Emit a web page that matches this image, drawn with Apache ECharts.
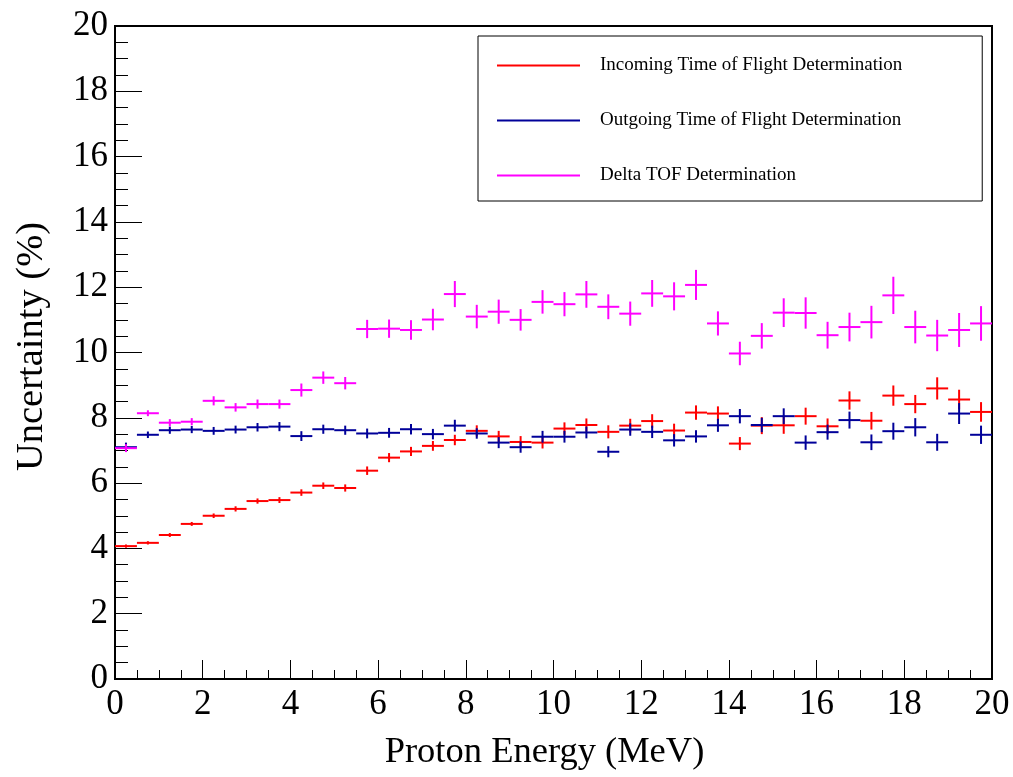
<!DOCTYPE html>
<html>
<head>
<meta charset="utf-8">
<title>Uncertainty vs Proton Energy</title>
<script src="https://cdn.jsdelivr.net/npm/echarts@6/dist/echarts.min.js"></script>
<style>
  html, body { margin: 0; padding: 0; background: #fff; }
  #chart { width: 1013px; height: 777px; }
</style>
</head>
<body>
<div id="chart"></div>
<script>
// Histogram binning: 40 bins of 0.5 MeV between 0 and 20 MeV
const binLow = 0;
const binWidth = 0.5;
const nBins = 40;

// Axis ticks
const xTicks = [0, 2, 4, 6, 8, 10, 12, 14, 16, 18, 20];
const yTicks = [0, 2, 4, 6, 8, 10, 12, 14, 16, 18, 20];

// Series names
const seriesNames = [
  'Incoming Time of Flight Determination',
  'Outgoing Time of Flight Determination',
  'Delta TOF Determination'
];

// Incoming TOF uncertainty (%) per bin and its error
const incoming = [4.07, 4.17, 4.41, 4.75, 5.00, 5.21, 5.45, 5.48, 5.71, 5.92,
                  5.85, 6.38, 6.78, 6.97, 7.14, 7.32, 7.60, 7.43, 7.26, 7.24,
                  7.67, 7.78, 7.57, 7.76, 7.90, 7.61, 8.16, 8.13, 7.21, 7.76,
                  7.77, 8.05, 7.74, 8.53, 7.91, 8.68, 8.42, 8.90, 8.56, 8.18];
const incomingErr = [0.05, 0.05, 0.06, 0.06, 0.07, 0.08, 0.08, 0.09, 0.10, 0.10,
                     0.11, 0.13, 0.14, 0.14, 0.15, 0.16, 0.17, 0.17, 0.18, 0.18,
                     0.19, 0.20, 0.20, 0.21, 0.21, 0.21, 0.22, 0.22, 0.20, 0.26,
                     0.26, 0.26, 0.24, 0.28, 0.27, 0.31, 0.28, 0.34, 0.30, 0.30];

// Outgoing TOF uncertainty (%) per bin and its error
const outgoing = [7.10, 7.48, 7.62, 7.64, 7.60, 7.64, 7.71, 7.73, 7.44, 7.65,
                  7.62, 7.52, 7.54, 7.65, 7.50, 7.76, 7.52, 7.24, 7.10, 7.42,
                  7.42, 7.55, 6.96, 7.64, 7.57, 7.31, 7.43, 7.77, 8.05, 7.78,
                  8.05, 7.24, 7.56, 7.93, 7.25, 7.59, 7.71, 7.25, 8.13, 7.48];
const outgoingErr = [0.14, 0.10, 0.11, 0.11, 0.12, 0.12, 0.13, 0.14, 0.15, 0.14,
                     0.14, 0.15, 0.15, 0.16, 0.16, 0.18, 0.16, 0.17, 0.17, 0.18,
                     0.18, 0.18, 0.17, 0.19, 0.19, 0.19, 0.19, 0.20, 0.22, 0.22,
                     0.24, 0.22, 0.23, 0.26, 0.24, 0.26, 0.28, 0.26, 0.32, 0.28];

// Delta TOF uncertainty (%) per bin and its error
const deltaTof = [7.07, 8.14, 7.85, 7.88, 8.52, 8.32, 8.42, 8.42, 8.85, 9.23,
                  9.06, 10.72, 10.73, 10.69, 11.01, 11.79, 11.10, 11.25, 11.00, 11.55,
                  11.48, 11.78, 11.40, 11.19, 11.81, 11.72, 12.07, 10.89, 9.97, 10.51,
                  11.22, 11.21, 10.53, 10.78, 10.93, 11.75, 10.78, 10.52, 10.69, 10.89];
const deltaTofErr = [0.12, 0.09, 0.11, 0.11, 0.14, 0.13, 0.14, 0.14, 0.20, 0.19,
                     0.19, 0.28, 0.28, 0.30, 0.33, 0.40, 0.36, 0.37, 0.33, 0.36,
                     0.37, 0.41, 0.38, 0.37, 0.41, 0.43, 0.46, 0.37, 0.36, 0.39,
                     0.44, 0.48, 0.41, 0.44, 0.50, 0.57, 0.50, 0.48, 0.52, 0.53];

const colors = ['#ff0000', '#000099', '#ff00ff'];
const font = 'Liberation Serif, Times New Roman, serif';

// Bin centres
const centers = [];
for (let i = 0; i < nBins; i++) centers.push(binLow + (i + 0.5) * binWidth);

function rows(values, errors) {
  return values.map((v, i) => [centers[i], v, errors[i]]);
}

// Each bin is drawn as a cross: horizontal bar over the bin width,
// vertical bar spanning +/- the error
function crossItem(params, api) {
  const x = api.value(0), y = api.value(1), e = api.value(2);
  const l = api.coord([x - binWidth / 2, y]);
  const r = api.coord([x + binWidth / 2, y]);
  const t = api.coord([x, y + e]);
  const b = api.coord([x, y - e]);
  const style = { stroke: api.visual('color'), lineWidth: 2 };
  return {
    type: 'group',
    children: [
      { type: 'line', shape: { x1: l[0], y1: l[1], x2: r[0], y2: r[1] }, style },
      { type: 'line', shape: { x1: t[0], y1: t[1], x2: b[0], y2: b[1] }, style }
    ]
  };
}

function makeSeries(name, values, errors, color) {
  return {
    name,
    type: 'custom',
    renderItem: crossItem,
    itemStyle: { color },
    encode: { x: 0, y: 1 },
    data: rows(values, errors),
    z: 3
  };
}

const chart = echarts.init(document.getElementById('chart'), null, { renderer: 'canvas' });

const axisCommon = {
  type: 'value',
  min: xTicks[0],
  max: xTicks[xTicks.length - 1],
  interval: 2,
  axisLine: { show: true, onZero: false, lineStyle: { color: '#000', width: 2 } },
  splitLine: { show: false }
};

chart.setOption({
  animation: false,
  backgroundColor: '#fff',
  color: colors,
  grid: {
    left: 115, right: 21, top: 26, bottom: 98,
    show: true, borderColor: '#000', borderWidth: 2, backgroundColor: 'transparent'
  },
  legend: {
    left: 478, top: 36,
    orient: 'vertical',
    data: seriesNames.map(n => ({ name: n, icon: 'rect' })),
    itemWidth: 83, itemHeight: 2, itemGap: 36,
    padding: [20, 80, 16, 19],
    backgroundColor: '#fff',
    borderColor: '#000', borderWidth: 1,
    textStyle: { color: '#000', fontFamily: font, fontSize: 19, padding: [0, 0, 0, 15] },
    selectedMode: false
  },
  xAxis: Object.assign({}, axisCommon, {
    name: 'Proton Energy (MeV)',
    nameLocation: 'middle',
    nameGap: 55,
    nameTextStyle: { color: '#000', fontFamily: font, fontSize: 36.5, padding: [0, 18, 0, 0] },
    axisTick: { show: true, inside: true, length: 19, lineStyle: { color: '#000', width: 1 } },
    minorTick: { show: true, splitNumber: 4, length: 9, lineStyle: { color: '#000', width: 1 } },
    axisLabel: { color: '#000', fontFamily: font, fontSize: 35, margin: 8, showMaxLabel: true, showMinLabel: true,
                 formatter: v => String(v) }
  }),
  yAxis: Object.assign({}, axisCommon, {
    min: yTicks[0],
    max: yTicks[yTicks.length - 1],
    name: 'Uncertainty (%)',
    nameLocation: 'middle',
    nameGap: 64,
    nameTextStyle: { color: '#000', fontFamily: font, fontSize: 38.5, padding: [0, 0, 0, 12] },
    axisTick: { show: true, inside: true, length: 27, lineStyle: { color: '#000', width: 1 } },
    minorTick: { show: true, splitNumber: 4, length: 13, lineStyle: { color: '#000', width: 1 } },
    axisLabel: { color: '#000', fontFamily: font, fontSize: 35, margin: 7, showMaxLabel: true, showMinLabel: true,
                 formatter: v => String(v) }
  }),
  series: [
    makeSeries(seriesNames[0], incoming, incomingErr, colors[0]),
    makeSeries(seriesNames[1], outgoing, outgoingErr, colors[1]),
    makeSeries(seriesNames[2], deltaTof, deltaTofErr, colors[2])
  ]
});
</script>
</body>
</html>
